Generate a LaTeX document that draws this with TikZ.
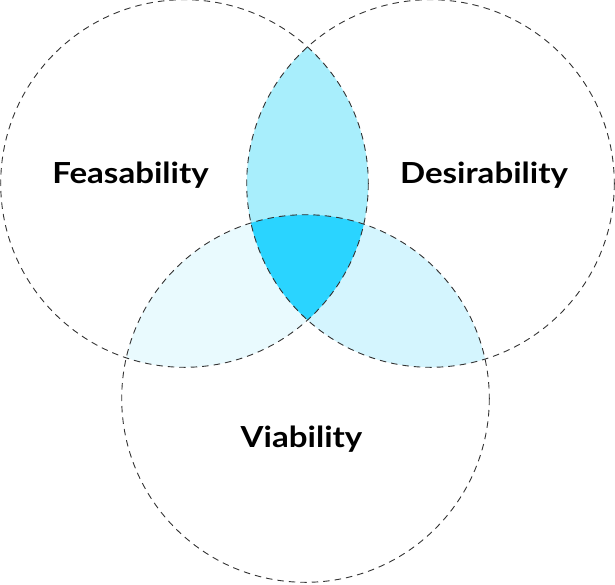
\documentclass[tikz,border=0pt]{standalone}
\usepackage{fontspec}
\setmainfont{Lato}
\newfontfamily\lblfont[FakeStretch=1.14]{Lato Bold}
\definecolor{lensLR}{HTML}{A8EEFC}
\definecolor{lensLB}{HTML}{E9FAFE}
\definecolor{lensRB}{HTML}{D4F5FE}
\definecolor{core}{HTML}{2AD4FF}
\definecolor{ring}{HTML}{333333}
\begin{document}
\begin{tikzpicture}[x=1pt,y=-1pt,
  ringline/.style={draw=ring,line width=0.9pt,dash pattern=on 6.5pt off 5pt},
  lbl/.style={font=\lblfont\fontsize{29}{31}\selectfont,anchor=base,inner sep=0pt,text=black}]
\useasboundingbox (0,0) rectangle (615,584);
\coordinate (cL) at (184.5,183.5);
\coordinate (cR) at (430.5,183.5);
\coordinate (cB) at (305.5,398.5);
\def\rr{183.8}
% lens L-B
\begin{scope}
  \clip (cL) circle[radius=\rr];
  \fill[lensLB] (cB) circle[radius=\rr];
\end{scope}
% lens R-B
\begin{scope}
  \clip (cR) circle[radius=\rr];
  \fill[lensRB] (cB) circle[radius=\rr];
\end{scope}
% lens L-R
\begin{scope}
  \clip (cL) circle[radius=\rr];
  \fill[lensLR] (cR) circle[radius=\rr];
\end{scope}
% core
\begin{scope}
  \clip (cL) circle[radius=\rr];
  \clip (cR) circle[radius=\rr];
  \fill[core] (cB) circle[radius=\rr];
\end{scope}
\draw[ringline] (cL) circle[radius=\rr];
\draw[ringline] (cR) circle[radius=\rr];
\draw[ringline] (cB) circle[radius=\rr];
\node[lbl] (feas) at (130.5,183) {Feasability};
\node[lbl] (desi) at (484,183) {Desirability};
\node[lbl] (viab) at (301.5,447) {Viability};
\end{tikzpicture}
\end{document}
